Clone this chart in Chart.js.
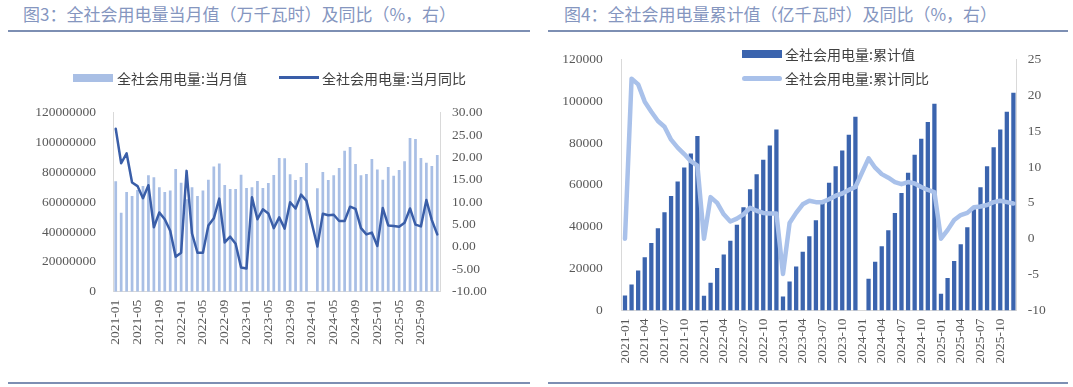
<!DOCTYPE html>
<html>
<head>
<meta charset="utf-8">
<script src="https://cdn.jsdelivr.net/npm/chart.js@4.4.1/dist/chart.umd.min.js"></script>
<style>
  html, body { margin:0; padding:0; background:#fff; }
  #wrap { position:relative; width:1073px; height:387px; background:#fff; overflow:hidden; }
  .title { position:absolute; font-family:"Noto Sans CJK SC", sans-serif; font-size:17px; line-height:20px; color:#8596bf; white-space:nowrap; }
  .rule { position:absolute; height:2px; background:#7d8fb3; }
  .leg { position:absolute; font-family:"Noto Sans CJK SC", sans-serif; font-size:14px; line-height:18px; color:#404040; white-space:nowrap; }
  .sw { position:absolute; }
  canvas { position:absolute; top:0; }
</style>
</head>
<body>
<div id="wrap">
  <div class="title" style="left:23px;top:4px;">图3：全社会用电量当月值（万千瓦时）及同比（%，右）</div>
  <div class="rule" style="left:8px;top:30px;width:522px;"></div>
  <div class="rule" style="left:8px;top:382px;width:522px;"></div>
  <div class="title" style="left:564px;top:4px;">图4：全社会用电量累计值（亿千瓦时）及同比（%，右）</div>
  <div class="rule" style="left:548px;top:30px;width:520px;"></div>
  <div class="rule" style="left:548px;top:382px;width:520px;"></div>

  <canvas id="c1" width="540" height="387" style="left:0;"></canvas>
  <canvas id="c2" width="533" height="387" style="left:540px;"></canvas>

  <div class="sw" style="left:73px;top:74px;width:40px;height:8px;background:#a9bfe5;"></div>
  <div class="leg" style="left:117px;top:69px;">全社会用电量:当月值</div>
  <div class="sw" style="left:279px;top:76px;width:40px;height:3px;background:#3a5ea8;"></div>
  <div class="leg" style="left:322px;top:69px;">全社会用电量:当月同比</div>

  <div class="sw" style="left:742px;top:50px;width:40px;height:8px;background:#3b64ae;"></div>
  <div class="leg" style="left:785px;top:45px;">全社会用电量:累计值</div>
  <div class="sw" style="left:742px;top:76px;width:40px;height:5px;border-radius:3px;background:#a9c1ea;"></div>
  <div class="leg" style="left:785px;top:69px;">全社会用电量:累计同比</div>
</div>
<script>
const months = [
  "2021-01","2021-02","2021-03","2021-04","2021-05","2021-06","2021-07","2021-08","2021-09","2021-10","2021-11","2021-12",
  "2022-01","2022-02","2022-03","2022-04","2022-05","2022-06","2022-07","2022-08","2022-09","2022-10","2022-11","2022-12",
  "2023-01","2023-02","2023-03","2023-04","2023-05","2023-06","2023-07","2023-08","2023-09","2023-10","2023-11","2023-12",
  "2024-01","2024-02","2024-03","2024-04","2024-05","2024-06","2024-07","2024-08","2024-09","2024-10","2024-11","2024-12",
  "2025-01","2025-02","2025-03","2025-04","2025-05","2025-06","2025-07","2025-08","2025-09","2025-10","2025-11","2025-12"
];

// 全社会用电量:当月值 (万千瓦时)
const monthlyValue = [
  74000000, 53000000, 66800000, 64100000, 68200000, 70800000, 78000000, 76700000, 70000000, 66800000, 67900000, 82200000,
  73100000, 62000000, 70000000, 64100000, 67900000, 75100000, 84000000, 86000000, 71500000, 68800000, 68800000, 78400000,
  69500000, 70000000, 74200000, 69500000, 72900000, 78200000, 89600000, 89400000, 78700000, 74900000, 76900000, 86300000,
  null,     69300000, 80200000, 74900000, 78000000, 82900000, 94500000, 97000000, 85600000, 78000000, 78900000, 89000000,
  82000000, 75100000, 83600000, 77800000, 81600000, 87400000, 103000000, 102400000, 89600000, 86500000, 84300000, 91600000
];
// 全社会用电量:当月同比 (%)
const monthlyYoY = [
  26.4, 18.7, 20.9, 14.4, 13.6, 10.9, 13.8, 4.4, 7.7, 6.2, 3.6, -2.2,
  -1.3, 17.0, 3.0, -1.3, -1.3, 4.8, 6.4, 10.8, 1.0, 2.3, 0.7, -4.6,
  -4.8, 11.1, 6.2, 8.4, 7.5, 4.2, 6.6, 4.1, 10.0, 8.6, 11.7, 10.3,
  null, 0.1, 7.4, 7.1, 7.2, 5.8, 5.8, 9.0, 8.5, 4.2, 2.8, 3.2,
  0.2, 8.7, 4.8, 4.7, 4.5, 5.4, 8.6, 5.0, 4.6, 10.5, 6.0, 2.8
];

// 全社会用电量:累计值 (亿千瓦时)
const cumValue = [
  7200, 12450, 19150, 25380, 32240, 39260, 46920, 54740, 61600, 68310, 75010, 83310,
  7020, 13250, 20270, 26810, 33360, 41020, 49320, 57930, 65120, 71980, 78840, 86500,
  6700, 13890, 21070, 28090, 35430, 43090, 51870, 60970, 68950, 76450, 83950, 92570,
  null, 15160, 23300, 30640, 38300, 46600, 56180, 65760, 74370, 82030, 90010, 98790,
  7980, 15480, 23620, 31600, 39740, 48360, 58890, 68950, 78040, 86500, 94960, 104060
];
// 全社会用电量:累计同比 (%)
const cumYoY = [
  0, 22.3, 21.5, 19.1, 17.7, 16.4, 15.6, 13.8, 12.7, 11.8, 10.8, 10.2,
  0, 5.8, 5.0, 3.4, 2.4, 2.8, 3.4, 4.3, 3.9, 3.6, 3.5, 3.5,
  -4.9, 2.2, 3.6, 4.8, 5.3, 5.1, 5.1, 5.5, 6.0, 6.3, 6.8, 7.2,
  null, 11.2, 9.9, 9.0, 8.5, 7.9, 7.6, 7.9, 7.7, 7.2, 6.8, 6.5,
  0, 1.2, 2.6, 3.3, 3.6, 4.4, 4.5, 4.7, 5.1, 5.3, 5.1, 4.9
];

// axis tick values
const leftValTicks = [0, 20000000, 40000000, 60000000, 80000000, 100000000, 120000000];
const leftPctTicks = [-10, -5, 0, 5, 10, 15, 20, 25, 30];
const rightValTicks = [0, 20000, 40000, 60000, 80000, 100000, 120000];
const rightPctTicks = [-10, -5, 0, 5, 10, 15, 20, 25];

const tickFont = { family: "'Liberation Serif', 'Noto Sans CJK SC', serif", size: 13.5 };
const tickColor = '#595959';
const axisLine = { display: true, color: '#d9d9d9', width: 1 };

function fixW(w) { return s => { s.width = w; }; }
function fixH(h) { return s => { s.height = h; }; }

function buildChart(canvasId, cfg) {
  return new Chart(document.getElementById(canvasId), {
    type: 'bar',
    data: {
      labels: months,
      datasets: [
        {
          type: 'line', data: cfg.lineData, yAxisID: 'y1', order: 0,
          borderColor: cfg.lineColor, borderWidth: cfg.lineWidth,
          pointRadius: 0, tension: 0, spanGaps: true,
          borderJoinStyle: 'round', borderCapStyle: 'round', fill: false
        },
        {
          type: 'bar', data: cfg.barData, yAxisID: 'y', order: 1,
          backgroundColor: cfg.barColor, borderWidth: 0,
          categoryPercentage: 1.0, barPercentage: cfg.barPct
        }
      ]
    },
    options: {
      responsive: false,
      animation: false,
      events: [],
      layout: { padding: { top: cfg.top, left: 0, right: 0, bottom: 0 } },
      plugins: { legend: { display: false }, tooltip: { enabled: false } },
      scales: {
        x: {
          grid: { display: false, drawTicks: false },
          border: axisLine,
          afterFit: fixH(cfg.xHeight),
          ticks: {
            autoSkip: false, minRotation: 90, maxRotation: 90, padding: 8,
            font: tickFont, color: tickColor,
            callback: (v, i) => (i % cfg.every === 0 ? months[i] : null)
          }
        },
        y: {
          position: 'left',
          min: cfg.valTicks[0], max: cfg.valTicks[cfg.valTicks.length - 1],
          grid: { display: false, drawTicks: false },
          border: axisLine,
          afterFit: fixW(cfg.leftW),
          afterBuildTicks: s => { s.ticks = cfg.valTicks.map(v => ({ value: v })); },
          ticks: { padding: cfg.leftPad, font: tickFont, color: tickColor, callback: v => String(v) }
        },
        y1: {
          position: 'right',
          min: cfg.pctTicks[0], max: cfg.pctTicks[cfg.pctTicks.length - 1],
          grid: { display: false, drawTicks: false, drawOnChartArea: false },
          border: axisLine,
          afterFit: fixW(cfg.rightW),
          afterBuildTicks: s => { s.ticks = cfg.pctTicks.map(v => ({ value: v })); },
          ticks: { padding: cfg.rightPad, font: tickFont, color: tickColor, callback: cfg.pctFmt }
        }
      }
    }
  });
}

buildChart('c1', {
  lineData: monthlyYoY, barData: monthlyValue,
  lineColor: '#3a5ea8', lineWidth: 2.5,
  barColor: '#a9bfe5', barPct: 0.5,
  top: 112.7, xHeight: 95.3, leftW: 113, rightW: 100,
  leftPad: 17, rightPad: 12, every: 4,
  valTicks: leftValTicks, pctTicks: leftPctTicks,
  pctFmt: v => Number(v).toFixed(2)
});

buildChart('c2', {
  lineData: cumYoY, barData: cumValue,
  lineColor: '#a9c1ea', lineWidth: 4.5,
  barColor: '#3b64ae', barPct: 0.65,
  top: 59.3, xHeight: 76.5, leftW: 81.7, rightW: 56.3,
  leftPad: 19, rightPad: 11, every: 3,
  valTicks: rightValTicks, pctTicks: rightPctTicks,
  pctFmt: v => String(v)
});
</script>
</body>
</html>
